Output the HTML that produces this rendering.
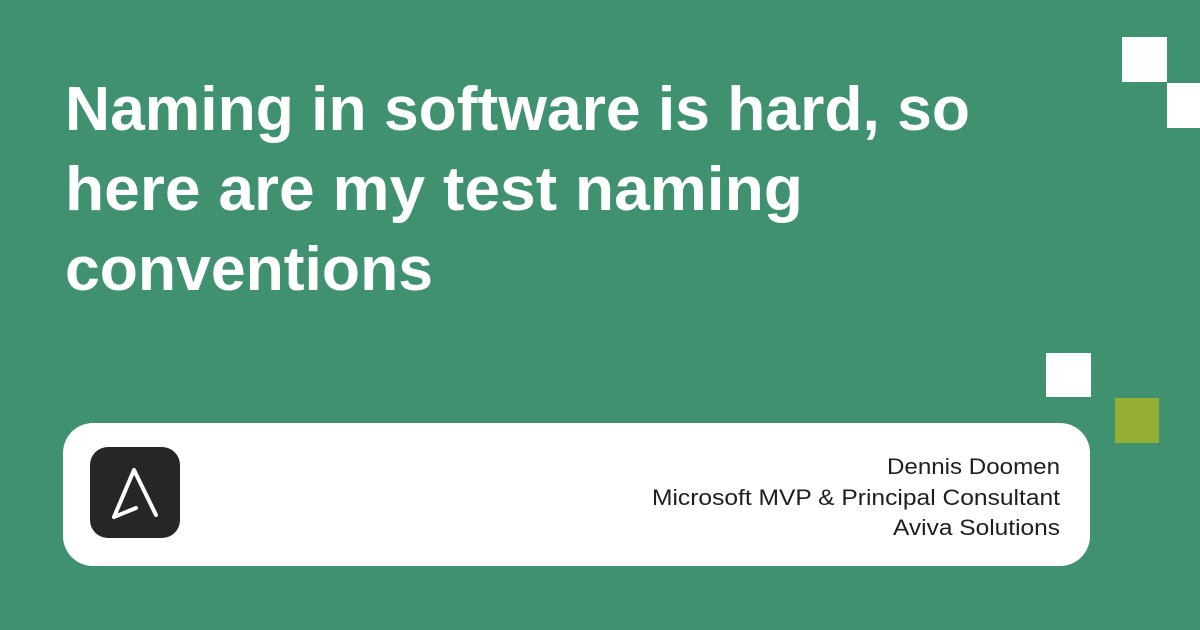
<!DOCTYPE html>
<html><head><meta charset="utf-8"><style>
html,body{margin:0;padding:0;width:1200px;height:630px;overflow:hidden;background:#3f9170}
</style></head><body>
<svg width="1200" height="630" viewBox="0 0 1200 630" xmlns="http://www.w3.org/2000/svg">
<rect width="1200" height="630" fill="#3f9170"/>
<g font-family="Liberation Sans, sans-serif" font-weight="bold" fill="#ffffff" font-size="62">
<text x="65" y="130" textLength="905" lengthAdjust="spacingAndGlyphs">Naming in software is hard, so</text>
<text x="65" y="210" textLength="738" lengthAdjust="spacingAndGlyphs">here are my test naming</text>
<text x="65" y="290" textLength="368" lengthAdjust="spacingAndGlyphs">conventions</text>
</g>
<rect x="1122" y="37" width="45" height="45" fill="#fff"/>
<rect x="1167" y="83" width="33" height="45" fill="#fff"/>
<rect x="1046" y="353" width="45" height="44" fill="#fff"/>
<rect x="1115" y="398" width="44" height="45" fill="#97ae35"/>
<rect x="63" y="423" width="1027" height="143" rx="30" fill="#fff"/>
<rect x="90" y="447" width="90" height="91" rx="18" fill="#262626"/>
<path d="M114 517 L134 470 L156 515 M114 517 L136 508" stroke="#fff" stroke-width="4" fill="none" stroke-linecap="round" stroke-linejoin="round"/>
<g font-family="Liberation Sans, sans-serif" font-size="22" fill="#1e1e1e" text-anchor="end">
<text x="1060" y="474" textLength="173" lengthAdjust="spacingAndGlyphs">Dennis Doomen</text>
<text x="1060" y="505" textLength="408" lengthAdjust="spacingAndGlyphs">Microsoft MVP &amp; Principal Consultant</text>
<text x="1060" y="535" textLength="167" lengthAdjust="spacingAndGlyphs">Aviva Solutions</text>
</g>
</svg>
</body></html>
